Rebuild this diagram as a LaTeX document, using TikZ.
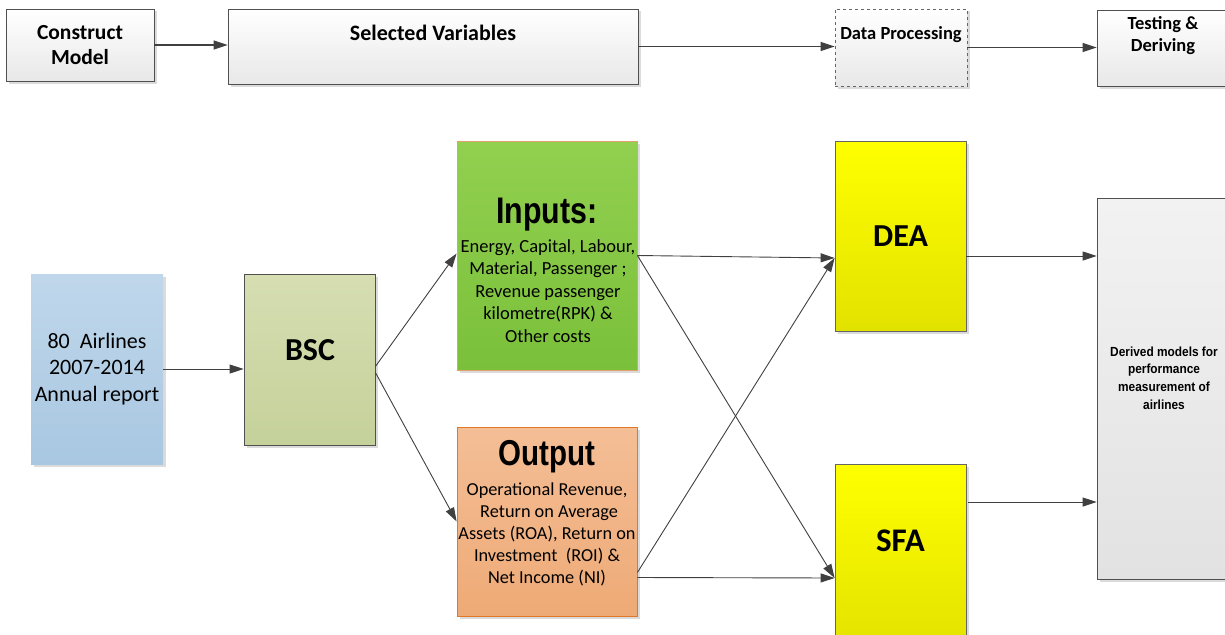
\documentclass[tikz,border=0pt]{standalone}
\usepackage{fontspec}
\setmainfont{Carlito}
\newfontfamily\narrowf[FakeStretch=0.82]{Liberation Sans}
\newfontfamily\arialf[FakeStretch=0.9]{Liberation Sans}
\usetikzlibrary{arrows.meta,shadows}
\definecolor{edge}{HTML}{505050}
\definecolor{arrowc}{HTML}{404040}
\tikzset{
  base/.style={rectangle, inner sep=0pt, line width=0.8pt,
    drop shadow={shadow xshift=2.5pt,shadow yshift=-2.5pt,fill=black!35,opacity=0.4}},
  graybox/.style={base, draw=edge, top color=white, bottom color=black!9},
  dashbox/.style={graybox, dashed, draw=black!60},
  bluebox/.style={base, draw=none, top color={rgb,255:red,192;green,215;blue,235}, bottom color={rgb,255:red,168;green,199;blue,225}},
  bscbox/.style={base, draw=edge, top color={rgb,255:red,214;green,222;blue,178}, bottom color={rgb,255:red,197;green,209;blue,154}},
  inbox/.style={base, draw={rgb,255:red,226;green,160;blue,110}, top color={rgb,255:red,146;green,208;blue,80}, bottom color={rgb,255:red,122;green,192;blue,58}},
  outbox/.style={base, draw={rgb,255:red,224;green,120;blue,40}, top color={rgb,255:red,244;green,190;blue,150}, bottom color={rgb,255:red,238;green,170;blue,118}},
  yelbox/.style={base, draw=black!60, top color={rgb,255:red,255;green,255;blue,0}, bottom color={rgb,255:red,226;green,226;blue,0}},
  derbox/.style={base, draw=edge, top color={rgb,255:red,242;green,242;blue,242}, bottom color={rgb,255:red,226;green,226;blue,226}},
  txt/.style={inner sep=0pt, align=center, text=black},
  arr/.style={draw=arrowc, line width=0.9pt, -{Triangle[length=14pt,width=9pt,fill=arrowc]}},
  toparr/.style={arr, line width=1.3pt},
}
\begin{document}
\begin{tikzpicture}[x=1pt,y=-1pt]
\useasboundingbox (0,0) rectangle (1225,634);
% top row
\node[graybox, minimum width=148pt, minimum height=72pt, txt, font=\bfseries\fontsize{21.5}{25}\selectfont] (cm) at (80,45) {Construct\\Model};
\node[graybox, minimum width=410pt, minimum height=75pt] (sv) at (433,46.5) {};
\node[txt, font=\bfseries\fontsize{22}{24}\selectfont] (svt) at (433,33) {Selected Variables};
\node[dashbox, minimum width=132pt, minimum height=77pt] (dp) at (901,47.5) {};
\node[txt, font=\bfseries\fontsize{18.5}{21}\selectfont] (dpt) at (901,35) {Data Processing};
\node[graybox, minimum width=150pt, minimum height=76pt] (td) at (1172,48) {};
\node[txt, font=\bfseries\fontsize{18.5}{22}\selectfont] (tdt) at (1163,36) {Testing \&\\Deriving};
% main flow
\node[bluebox, minimum width=132pt, minimum height=190pt, txt, font=\fontsize{22}{26.5}\selectfont] (al) at (97,369) {80\ \ Airlines\\2007-2014\\Annual report};
\node[bscbox, minimum width=131pt, minimum height=171pt] (bsc) at (309.5,359.5) {};
\node[txt, font=\bfseries\fontsize{32}{36}\selectfont] (bsct) at (310,350) {BSC};
\node[inbox, minimum width=180pt, minimum height=229pt] (in) at (547,255.5) {};
\node[txt, font=\narrowf\bfseries\fontsize{37}{42}\selectfont] (int) at (547,215) {Inputs:};
\node[txt, font=\fontsize{18.5}{22.5}\selectfont] (inb) at (548,291) {Energy, Capital, Labour,\\Material, Passenger ;\\Revenue passenger\\kilometre(RPK) \&\\Other costs};
\node[outbox, minimum width=180pt, minimum height=189pt] (out) at (547,521.5) {};
\node[txt, font=\narrowf\bfseries\fontsize{36}{40}\selectfont] (outt) at (547,457) {Output};
\node[txt, font=\fontsize{18.3}{22}\selectfont] (outb) at (547,534) {Operational Revenue,\\\ Return on Average\\Assets (ROA), Return on\\Investment\ \ (ROI) \&\\Net Income (NI)};
\node[yelbox, minimum width=131pt, minimum height=190pt, txt, font=\bfseries\fontsize{32}{36}\selectfont] (dea) at (900.5,236) {DEA};
\node[yelbox, minimum width=131pt, minimum height=186pt] (sfa) at (900.5,557) {};
\node[txt, font=\bfseries\fontsize{33}{36}\selectfont] (sfat) at (900.5,541) {SFA};
\node[derbox, minimum width=143pt, minimum height=381pt] (der) at (1168.5,388.5) {};
\node[txt, font=\arialf\bfseries\fontsize{13.2}{17.7}\selectfont] (dert) at (1164,378) {Derived models for\\performance\\measurement of\\airlines};
% top arrows
\draw[toparr] (cm.east) -- (cm.east -| sv.west);
\draw[toparr] (sv.east) -- (sv.east -| dp.west);
\draw[toparr] (dp.east) -- (dp.east -| td.west);
% main arrows
\draw[arr] (al.east) -- (al.east -| bsc.west);
\draw[arr] ([yshift=-7pt]bsc.east) -- ([yshift=2pt]in.west);
\draw[arr] ([yshift=-13pt]bsc.east) -- (out.west);
\coordinate (deain) at ([yshift=-22pt]dea.west);
\coordinate (sfain) at ([yshift=-21pt]sfa.west);
\draw[arr] (in.east) -- (deain);
\draw[arr] (in.east) -- (sfain);
\draw[arr] ([yshift=-51pt]out.east) -- (deain);
\draw[arr] ([yshift=-56pt]out.east) -- (sfain);
\coordinate (deaout) at ([yshift=-20pt]dea.east);
\coordinate (sfaout) at ([xshift=2pt,yshift=55pt]sfa.east);
\draw[arr] (deaout) -- (deaout -| der.west);
\draw[arr] (sfaout) -- (sfaout -| der.west);
\end{tikzpicture}
\end{document}
